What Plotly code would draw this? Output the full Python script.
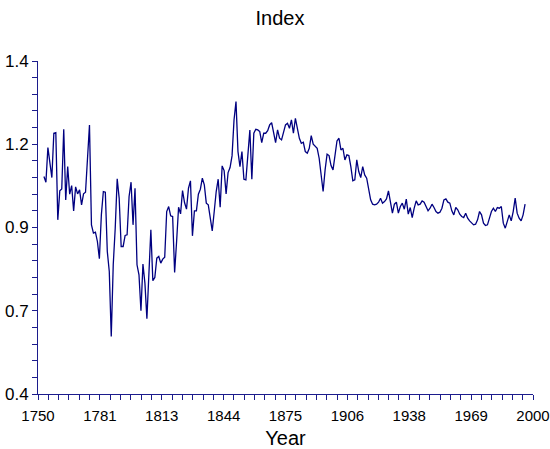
import plotly.graph_objects as go

# Annual index values, first observation in 1753
FIRST_YEAR = 1753

index_1753_1812 = [
    1.053, 1.036, 1.140, 1.093, 1.050, 1.183, 1.185, 0.923, 1.010, 1.016,
    1.195, 0.983, 1.083, 1.000, 1.026, 0.950, 1.022, 1.001, 1.013, 0.968,
    1.001, 1.006, 1.118, 1.208, 0.908, 0.883, 0.886, 0.858, 0.806, 0.938,
    1.008, 1.006, 0.828, 0.768, 0.573, 0.788, 0.898, 1.046, 0.988, 0.843,
    0.843, 0.876, 0.878, 0.993, 1.036, 0.908, 1.018, 0.788, 0.758, 0.650,
    0.790, 0.733, 0.626, 0.778, 0.893, 0.740, 0.750, 0.808, 0.813, 0.793,
]

index_1813_1874 = [
    0.805, 0.811, 0.948, 0.963, 0.935, 0.933, 0.765, 0.858, 0.961, 0.941,
    1.011, 0.975, 0.955, 1.018, 1.040, 0.875, 0.950, 0.950, 1.000, 1.015,
    1.048, 1.028, 0.973, 0.968, 0.935, 0.890, 0.948, 1.008, 1.045, 0.961,
    1.085, 1.071, 1.001, 1.065, 1.080, 1.115, 1.223, 1.278, 1.128, 1.083,
    1.128, 1.045, 1.043, 1.133, 1.193, 1.045, 1.183, 1.195, 1.193, 1.188,
    1.155, 1.183, 1.183, 1.191, 1.208, 1.215, 1.183, 1.155, 1.193, 1.168,
    1.163, 1.190,
]

index_1875_1934 = [
    1.208, 1.213, 1.198, 1.223, 1.183, 1.228, 1.198, 1.168, 1.153, 1.156,
    1.128, 1.123, 1.138, 1.176, 1.150, 1.143, 1.138, 1.108, 1.058, 1.008,
    1.073, 1.120, 1.116, 1.086, 1.073, 1.113, 1.160, 1.168, 1.133, 1.138,
    1.103, 1.118, 1.116, 1.083, 1.040, 1.043, 1.103, 1.068, 1.050, 1.083,
    1.058, 1.048, 1.010, 0.983, 0.970, 0.968, 0.970, 0.976, 0.988, 0.973,
    0.978, 0.986, 1.010, 0.973, 0.943, 0.970, 0.976, 0.943, 0.963, 0.973,
]

index_1935_1996 = [
    0.955, 0.985, 0.940, 0.960, 0.930, 0.958, 0.980, 0.968, 0.970, 0.980,
    0.976, 0.963, 0.950, 0.958, 0.970, 0.960, 0.948, 0.943, 0.946, 0.958,
    0.983, 0.986, 0.976, 0.973, 0.950, 0.938, 0.960, 0.953, 0.940, 0.933,
    0.930, 0.943, 0.928, 0.920, 0.913, 0.908, 0.910, 0.923, 0.948, 0.938,
    0.913, 0.906, 0.908, 0.928, 0.948, 0.958, 0.948, 0.960, 0.958, 0.963,
    0.913, 0.898, 0.918, 0.938, 0.920, 0.948, 0.988, 0.943, 0.928, 0.920,
    0.938, 0.970,
]

values = index_1753_1812 + index_1813_1874 + index_1875_1934 + index_1935_1996
years = list(range(FIRST_YEAR, FIRST_YEAR + len(values)))

# Axis ticks
x_tick_vals = [1750, 1781.25, 1812.5, 1843.75, 1875, 1906.25, 1937.5, 1968.75, 2000]
x_tick_text = ["1750", "1781", "1813", "1844", "1875", "1906", "1938", "1969", "2000"]
y_tick_vals = [0.4, 0.65, 0.9, 1.15, 1.4]
y_tick_text = ["0.4", "0.7", "0.9", "1.2", "1.4"]

NAVY = "#000080"
AXIS = "#1c1c8c"
FONT = "Liberation Sans, Arial, sans-serif"

fig = go.Figure(
    go.Scatter(
        x=years,
        y=values,
        mode="lines",
        line=dict(color=NAVY, width=1.3),
        hoverinfo="x+y",
        showlegend=False,
    )
)

fig.update_layout(
    width=550,
    height=449,
    margin=dict(l=38, r=17, t=61, b=55),
    paper_bgcolor="white",
    plot_bgcolor="white",
    font=dict(family=FONT, color="black"),
    title=dict(
        text="Index",
        font=dict(size=20, family=FONT, color="black"),
        x=280 / 550,
        xanchor="center",
        xref="container",
        y=1 - 18 / 449,
        yanchor="middle",
        yref="container",
    ),
    xaxis=dict(
        range=[1750, 2000],
        automargin=False,
        showline=True,
        linecolor=AXIS,
        linewidth=1,
        ticks="outside",
        ticklen=5,
        tickwidth=1,
        tickcolor=AXIS,
        tickmode="array",
        tickvals=x_tick_vals,
        ticktext=x_tick_text,
        tickfont=dict(size=15, family=FONT, color="black"),
        ticklabelstandoff=3,
        ticklabeloverflow="allow",
        showgrid=False,
        zeroline=False,
        minor=dict(
            tickmode="linear",
            tick0=1750,
            dtick=31.25 / 6,
            ticks="outside",
            ticklen=5,
            tickcolor=AXIS,
            showgrid=False,
        ),
        title=dict(text="Year", font=dict(size=20, family=FONT, color="black"), standoff=9),
    ),
    yaxis=dict(
        range=[0.4, 1.4],
        automargin=False,
        showline=True,
        linecolor=AXIS,
        linewidth=1,
        ticks="outside",
        ticklen=5,
        tickwidth=1,
        tickcolor=AXIS,
        tickmode="array",
        tickvals=y_tick_vals,
        ticktext=y_tick_text,
        tickfont=dict(size=17, family=FONT, color="black"),
        ticklabeloverflow="allow",
        showgrid=False,
        zeroline=False,
        minor=dict(
            tickmode="linear",
            tick0=0.4,
            dtick=0.05,
            ticks="outside",
            ticklen=5,
            tickcolor=AXIS,
            showgrid=False,
        ),
    ),
)

fig.write_html("out.html")
